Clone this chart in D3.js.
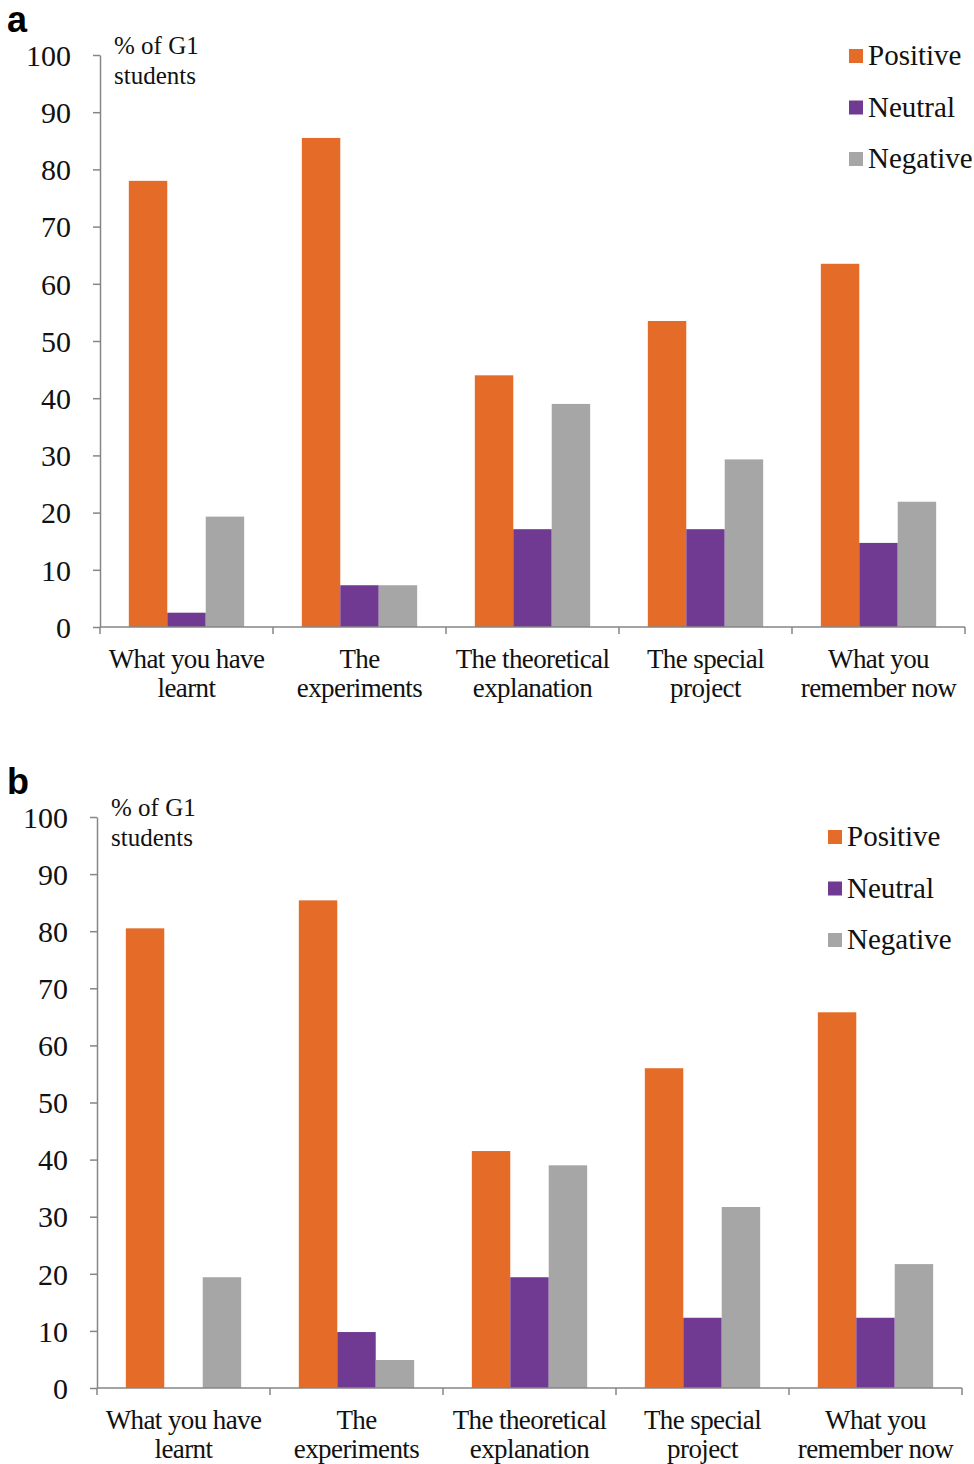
<!DOCTYPE html>
<html lang="en">
<head>
<meta charset="utf-8" />
<script src="https://cdn.jsdelivr.net/npm/d3@7"></script>
<style>
  body { margin: 0; background: #fff; }
  text { font-family: "Liberation Serif", "Times New Roman", serif; fill: #111; }
  text.panel-label { font-family: "Liberation Sans", Arial, sans-serif; font-weight: bold; fill: #000; }
</style>
</head>
<body>
<script>
// categories and series
var categories = [
  ["What you have", "learnt"],
  ["The", "experiments"],
  ["The theoretical", "explanation"],
  ["The special", "project"],
  ["What you", "remember now"]
];
var seriesNames = ["Positive", "Neutral", "Negative"];
var seriesColors = ["#e46c28", "#703a92", "#a6a6a6"];
var yTicks = [0, 10, 20, 30, 40, 50, 60, 70, 80, 90, 100];

// panel a values
var aPositive = [78, 85.5, 44, 53.5, 63.5];
var aNeutral  = [2.5, 7.3, 17.1, 17.1, 14.7];
var aNegative = [19.3, 7.3, 39, 29.3, 21.9];

// panel b values
var bPositive = [80.5, 85.4, 41.5, 56, 65.8];
var bNeutral  = [0, 9.8, 19.4, 12.3, 12.3];
var bNegative = [19.4, 4.9, 39, 31.7, 21.7];

var W = 974, H = 1464;
var svg = d3.select("body").append("svg")
  .attr("width", W).attr("height", H);

function drawPanel(label, vals, box, legendPos) {
  var g = svg.append("g");
  var x = d3.scaleBand().domain(d3.range(categories.length))
    .range([box.x0, box.x1]);
  var xs = d3.scaleBand().domain(d3.range(seriesNames.length))
    .range([x.bandwidth() / 6, x.bandwidth() * 5 / 6]);
  var y = d3.scaleLinear().domain([0, 100]).range([box.y0, box.y1]);

  // bars
  seriesNames.forEach(function(s, si) {
    g.selectAll(".bar" + si)
      .data(vals[si])
      .enter().append("rect")
      .attr("x", function(d, i) { return x(i) + xs(si); })
      .attr("y", function(d) { return y(d); })
      .attr("width", xs.bandwidth())
      .attr("height", function(d) { return y(0) - y(d); })
      .attr("fill", seriesColors[si]);
  });

  // y axis
  var ya = g.append("g").attr("transform", "translate(" + box.x0 + ",0)")
    .call(d3.axisLeft(y).tickValues(yTicks).tickSize(7).tickPadding(22).tickSizeOuter(0));
  ya.select(".domain").attr("stroke", "#868686").attr("stroke-width", 1.5);
  ya.selectAll(".tick line").attr("stroke", "#868686").attr("stroke-width", 1.5);
  ya.selectAll(".tick text").attr("font-size", 30).attr("dy", "0.34em");

  // x axis: line and boundary ticks
  g.append("line")
    .attr("x1", box.x0).attr("x2", box.x1)
    .attr("y1", y(0)).attr("y2", y(0))
    .attr("stroke", "#868686").attr("stroke-width", 1.5);
  g.selectAll(".xt")
    .data(d3.range(categories.length + 1))
    .enter().append("line")
    .attr("x1", function(i) { return i < categories.length ? x(i) : box.x1; })
    .attr("x2", function(i) { return i < categories.length ? x(i) : box.x1; })
    .attr("y1", y(0)).attr("y2", y(0) + 7)
    .attr("stroke", "#868686").attr("stroke-width", 1.5);

  // category labels
  categories.forEach(function(c, i) {
    c.forEach(function(line, li) {
      g.append("text")
        .attr("x", x(i) + x.bandwidth() / 2)
        .attr("y", y(0) + 41 + li * 29)
        .attr("text-anchor", "middle")
        .attr("font-size", 27)
        .attr("letter-spacing", -0.6)
        .text(line);
    });
  });

  // axis title
  g.append("text").attr("x", box.x0 + 14).attr("y", y(100) - 1)
    .attr("font-size", 25).text("% of G1");
  g.append("text").attr("x", box.x0 + 14).attr("y", y(100) + 29)
    .attr("font-size", 25).text("students");

  // panel label
  g.append("text").attr("class", "panel-label")
    .attr("x", 7).attr("y", y(100) - 23)
    .attr("font-size", 36).text(label);

  // legend
  seriesNames.forEach(function(s, si) {
    var ly = legendPos.y + si * legendPos.step;
    g.append("rect").attr("x", legendPos.x).attr("y", ly - 7)
      .attr("width", 14).attr("height", 14).attr("fill", seriesColors[si]);
    g.append("text").attr("x", legendPos.x + 19).attr("y", ly + 9)
      .attr("font-size", 29).text(s);
  });
}

drawPanel("a", [aPositive, aNeutral, aNegative],
  { x0: 100, x1: 965, y0: 627, y1: 55 }, { x: 849, y: 56, step: 51.5 });
drawPanel("b", [bPositive, bNeutral, bNegative],
  { x0: 97, x1: 962, y0: 1388, y1: 817 }, { x: 828, y: 837, step: 51.5 });
</script>
</body>
</html>
